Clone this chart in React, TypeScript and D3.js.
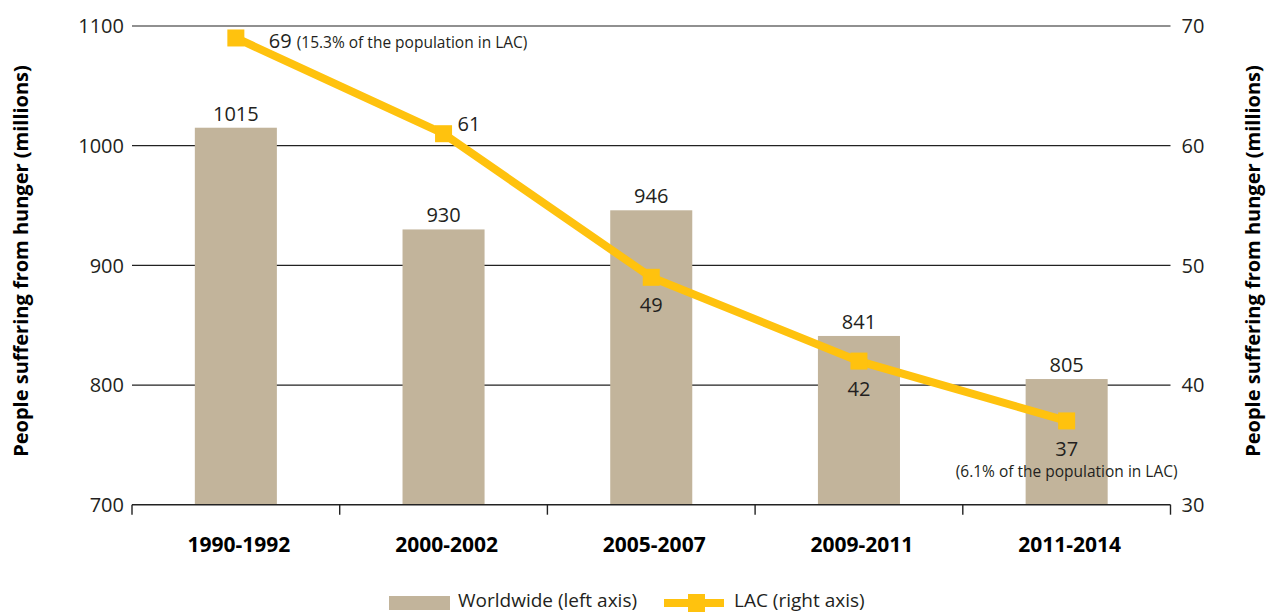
import * as d3 from 'd3';
import React, { useEffect, useRef } from 'react';

const periods = ['1990-1992', '2000-2002', '2005-2007', '2009-2011', '2011-2014'];
const worldwide = [1015, 930, 946, 841, 805];
const lac = [69, 61, 49, 42, 37];
const leftTicks = [700, 800, 900, 1000, 1100];
const rightTicks = [30, 40, 50, 60, 70];
const firstNote = '(15.3% of the population in LAC)';
const lastNote = '(6.1% of the population in LAC)';
const axisTitle = 'People suffering from hunger (millions)';
const legendLabels = ['Worldwide (left axis)', 'LAC (right axis)'];

const BAR = '#c2b49b';
const LINE = '#ffc20e';
const TEXT = '#231f20';
const FONT = '"Open Sans", sans-serif';

const App: React.FC = () => {
  const ref = useRef<SVGSVGElement>(null);

  useEffect(() => {
    if (!ref.current) return;
    const width = 1271;
    const height = 612;
    const left = 132;
    const right = 1170.5;
    const top = 26;
    const bottom = 504.7;

    const svg = d3.select(ref.current);
    svg.selectAll('*').remove();
    svg.attr('width', width).attr('height', height);

    const x = d3.scaleBand<string>().domain(periods).range([left, right]).padding(0);
    const yL = d3.scaleLinear().domain([700, 1100]).range([bottom, top]);
    const yR = d3.scaleLinear().domain([30, 70]).range([bottom, top]);
    const barW = x.bandwidth() * 0.395;
    const cx = (p: string) => (x(p) as number) + x.bandwidth() / 2;

    // gridlines
    svg.append('g')
      .selectAll('line')
      .data(leftTicks.filter(t => t !== 700))
      .enter()
      .append('line')
      .attr('x1', left)
      .attr('x2', right)
      .attr('y1', d => yL(d))
      .attr('y2', d => yL(d))
      .attr('stroke', '#222')
      .attr('stroke-width', 1.2);

    // bars
    svg.append('g')
      .selectAll('rect')
      .data(worldwide)
      .enter()
      .append('rect')
      .attr('x', (d, i) => cx(periods[i]) - barW / 2)
      .attr('width', barW)
      .attr('y', d => yL(d))
      .attr('height', d => bottom - yL(d))
      .attr('fill', BAR);

    svg.append('g')
      .selectAll('text')
      .data(worldwide)
      .enter()
      .append('text')
      .attr('x', (d, i) => cx(periods[i]))
      .attr('y', d => yL(d) - 7)
      .attr('text-anchor', 'middle')
      .style('font-family', FONT)
      .style('font-size', '20px')
      .style('fill', TEXT)
      .text(d => d);

    // bottom axis
    const axisG = svg.append('g');
    axisG.append('line')
      .attr('x1', left)
      .attr('x2', right)
      .attr('y1', bottom)
      .attr('y2', bottom)
      .attr('stroke', '#222')
      .attr('stroke-width', 1.4);
    const bounds = periods.map(p => x(p) as number).concat([right]);
    axisG.selectAll('line.tick')
      .data(bounds)
      .enter()
      .append('line')
      .attr('class', 'tick')
      .attr('x1', d => d)
      .attr('x2', d => d)
      .attr('y1', bottom)
      .attr('y2', bottom + 10)
      .attr('stroke', '#222')
      .attr('stroke-width', 1.4);
    axisG.selectAll('text')
      .data(periods)
      .enter()
      .append('text')
      .attr('x', d => cx(d) + 3)
      .attr('y', 552)
      .attr('text-anchor', 'middle')
      .style('font-family', FONT)
      .style('font-size', '21px')
      .style('font-weight', 700)
      .style('fill', '#000')
      .text(d => d);

    // tick labels
    svg.append('g')
      .selectAll('text')
      .data(leftTicks)
      .enter()
      .append('text')
      .attr('x', left - 8)
      .attr('y', d => yL(d))
      .attr('dy', '0.36em')
      .attr('text-anchor', 'end')
      .style('font-family', FONT)
      .style('font-size', '20px')
      .style('fill', TEXT)
      .text(d => d);
    svg.append('g')
      .selectAll('text')
      .data(rightTicks)
      .enter()
      .append('text')
      .attr('x', right + 11)
      .attr('y', d => yR(d))
      .attr('dy', '0.36em')
      .attr('text-anchor', 'start')
      .style('font-family', FONT)
      .style('font-size', '20px')
      .style('fill', TEXT)
      .text(d => d);

    // axis titles
    [28, 1260].forEach(tx => {
      svg.append('text')
        .attr('transform', `translate(${tx},261) rotate(-90)`)
        .attr('text-anchor', 'middle')
        .style('font-family', FONT)
        .style('font-size', '20px')
        .style('font-weight', 700)
        .style('fill', '#000')
        .text(axisTitle);
    });

    // LAC line
    const line = d3.line<number>()
      .x((d, i) => cx(periods[i]))
      .y(d => yR(d));
    svg.append('path')
      .datum(lac)
      .attr('d', line)
      .attr('fill', 'none')
      .attr('stroke', LINE)
      .attr('stroke-width', 8);
    svg.append('g')
      .selectAll('rect')
      .data(lac)
      .enter()
      .append('rect')
      .attr('x', (d, i) => cx(periods[i]) - 8.5)
      .attr('y', d => yR(d) - 8.5)
      .attr('width', 17)
      .attr('height', 17)
      .attr('fill', LINE);

    const lab = svg.append('g')
      .style('font-family', FONT)
      .style('fill', TEXT);
    lac.forEach((v, i) => {
      const px = cx(periods[i]);
      const py = yR(v);
      if (i === 0) {
        const t = lab.append('text')
          .attr('x', px + 33)
          .attr('y', py + 10)
          .style('font-size', '20px');
        t.append('tspan').text(v);
        t.append('tspan').attr('dx', 5).style('font-size', '15.5px').text(firstNote);
      } else if (i === 1) {
        lab.append('text')
          .attr('x', px + 14)
          .attr('y', py - 3)
          .style('font-size', '20px')
          .text(v);
      } else {
        lab.append('text')
          .attr('x', px)
          .attr('y', py + 35)
          .attr('text-anchor', 'middle')
          .style('font-size', '20px')
          .text(v);
      }
      if (i === lac.length - 1) {
        lab.append('text')
          .attr('x', px)
          .attr('y', py + 56)
          .attr('text-anchor', 'middle')
          .style('font-size', '15.5px')
          .text(lastNote);
      }
    });

    // legend
    const lg = svg.append('g').style('font-family', FONT).style('fill', TEXT);
    lg.append('rect')
      .attr('x', 389).attr('y', 596).attr('width', 61).attr('height', 14)
      .attr('fill', BAR);
    lg.append('text')
      .attr('x', 458).attr('y', 606.5)
      .style('font-size', '19px')
      .text(legendLabels[0]);
    lg.append('line')
      .attr('x1', 664).attr('x2', 724).attr('y1', 603).attr('y2', 603)
      .attr('stroke', LINE).attr('stroke-width', 8);
    lg.append('rect')
      .attr('x', 688).attr('y', 594).attr('width', 17).attr('height', 18)
      .attr('fill', LINE);
    lg.append('text')
      .attr('x', 734).attr('y', 606.5)
      .style('font-size', '19px')
      .text(legendLabels[1]);
  }, []);

  return (
    <svg ref={ref} style={{ position: 'absolute', left: 0, top: 0, display: 'block' }} />
  );
};

export default App;
